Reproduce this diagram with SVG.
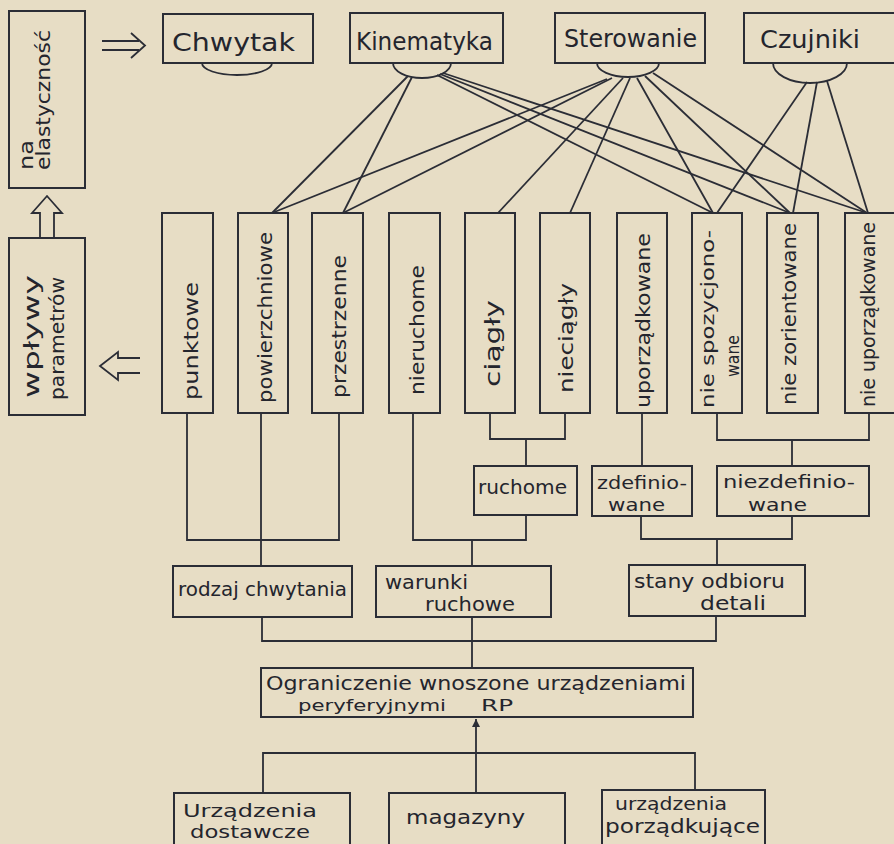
<svg xmlns="http://www.w3.org/2000/svg" width="894" height="844" viewBox="0 0 894 844">
<style>
.bx{fill:none;stroke:#2b2d36;stroke-width:2}
.ln{fill:none;stroke:#2b2d36;stroke-width:1.8}
.t{font-family:"DejaVu Sans","Liberation Sans",Arial,sans-serif;font-size:20px;fill:#24252d}
.big{font-size:24px}
.sm{font-size:17px}
.vs{font-size:18px}
</style>
<defs>
<marker id="ah" viewBox="0 0 10 10" refX="10" refY="5" markerWidth="8" markerHeight="8" markerUnits="userSpaceOnUse" orient="auto">
<path d="M0 0 L10 5 L0 10 Z" fill="#2b2d36"/>
</marker>
</defs>
<rect width="894" height="844" fill="#e7ddc5"/>

<!-- side notes -->
<g id="na-elastycznosc">
<rect class="bx" x="9" y="11" width="76" height="177"/>
<text class="t" transform="translate(33,170) rotate(-90)" textLength="30" lengthAdjust="spacingAndGlyphs">na</text>
<text class="t" transform="translate(50,170) rotate(-90)" textLength="140" lengthAdjust="spacingAndGlyphs">elastyczność</text>
</g>
<g id="wplywy-parametrow">
<rect class="bx" x="9" y="238" width="76" height="177"/>
<text class="t" style="font-size:22px" transform="translate(39,398) rotate(-90)" textLength="123" lengthAdjust="spacingAndGlyphs">wpływy</text>
<text class="t" transform="translate(64,400) rotate(-90)" textLength="123" lengthAdjust="spacingAndGlyphs">parametrów</text>
</g>
<g id="arrows-side">
<path class="ln" d="M102 41 H139 M102 50 H139 M131 33 L145 45.5 L131 58"/>
<path class="ln" d="M40 238 V213 H32 L47 196 L62 213 H54 V238"/>
<path class="ln" d="M140 358 H118 V352 L100 366 L118 380 V373 H140"/>
</g>

<!-- top nodes -->
<g id="chwytak">
<rect class="bx" x="163" y="14" width="150" height="49"/>
<path class="ln" d="M202 63 A35 12 0 0 0 272 63"/>
<text class="t big" x="172" y="51" textLength="123" lengthAdjust="spacingAndGlyphs">Chwytak</text>
</g>
<g id="kinematyka">
<rect class="bx" x="350" y="13" width="153" height="50"/>
<path class="ln" d="M393 63 A29 15 0 0 0 451 63"/>
<text class="t big" x="356" y="50" textLength="137" lengthAdjust="spacingAndGlyphs">Kinematyka</text>
</g>
<g id="sterowanie">
<rect class="bx" x="555" y="13" width="150" height="50"/>
<path class="ln" d="M597 63 A31 14 0 0 0 659 63"/>
<text class="t big" x="564" y="47" textLength="133" lengthAdjust="spacingAndGlyphs">Sterowanie</text>
</g>
<g id="czujniki">
<rect class="bx" x="744" y="13" width="160" height="50"/>
<path class="ln" d="M773 63 A37 20 0 0 0 847 63"/>
<text class="t big" x="760" y="48" textLength="100" lengthAdjust="spacingAndGlyphs">Czujniki</text>
</g>

<!-- vertical nodes -->
<g id="punktowe">
<rect class="bx" x="162" y="213" width="51" height="200"/>
<text class="t" transform="translate(198,400) rotate(-90)" textLength="118" lengthAdjust="spacingAndGlyphs">punktowe</text>
</g>
<g id="powierzchniowe">
<rect class="bx" x="238" y="213" width="50" height="200"/>
<text class="t" transform="translate(272,403) rotate(-90)" textLength="171" lengthAdjust="spacingAndGlyphs">powierzchniowe</text>
</g>
<g id="przestrzenne">
<rect class="bx" x="312" y="213" width="51" height="200"/>
<text class="t" transform="translate(346,398) rotate(-90)" textLength="143" lengthAdjust="spacingAndGlyphs">przestrzenne</text>
</g>
<g id="nieruchome">
<rect class="bx" x="389" y="213" width="51" height="200"/>
<text class="t" transform="translate(424,395) rotate(-90)" textLength="130" lengthAdjust="spacingAndGlyphs">nieruchome</text>
</g>
<g id="ciagly">
<rect class="bx" x="465" y="213" width="50" height="200"/>
<text class="t" style="font-size:22px" transform="translate(500,387) rotate(-90)" textLength="87" lengthAdjust="spacingAndGlyphs">ciągły</text>
</g>
<g id="nieciagly">
<rect class="bx" x="540" y="213" width="50" height="200"/>
<text class="t" transform="translate(573,393) rotate(-90)" textLength="110" lengthAdjust="spacingAndGlyphs">nieciągły</text>
</g>
<g id="uporzadkowane">
<rect class="bx" x="617" y="213" width="50" height="200"/>
<text class="t" transform="translate(650,408) rotate(-90)" textLength="175" lengthAdjust="spacingAndGlyphs">uporządkowane</text>
</g>
<g id="nie-spozycjonowane">
<rect class="bx" x="692" y="213" width="50" height="200"/>
<text class="t vs" transform="translate(714,408) rotate(-90)" textLength="178" lengthAdjust="spacingAndGlyphs">nie spozycjono-</text>
<text class="t vs" transform="translate(739,377) rotate(-90)" textLength="42" lengthAdjust="spacingAndGlyphs">wane</text>
</g>
<g id="nie-zorientowane">
<rect class="bx" x="767" y="213" width="51" height="200"/>
<text class="t" transform="translate(796,405) rotate(-90)" textLength="182" lengthAdjust="spacingAndGlyphs">nie zorientowane</text>
</g>
<g id="nie-uporzadkowane">
<rect class="bx" x="845" y="213" width="60" height="200"/>
<text class="t" transform="translate(875,407) rotate(-90)" textLength="185" lengthAdjust="spacingAndGlyphs">nie uporządkowane</text>
</g>

<!-- middle nodes -->
<g id="ruchome">
<rect class="bx" x="474" y="466" width="103" height="49"/>
<text class="t" x="478" y="494" textLength="89" lengthAdjust="spacingAndGlyphs">ruchome</text>
</g>
<g id="zdefiniowane">
<rect class="bx" x="592" y="466" width="100" height="50"/>
<text class="t vs" x="597" y="489" textLength="90" lengthAdjust="spacingAndGlyphs">zdefinio-</text>
<text class="t vs" x="608" y="511" textLength="57" lengthAdjust="spacingAndGlyphs">wane</text>
</g>
<g id="niezdefiniowane">
<rect class="bx" x="717" y="466" width="152" height="50"/>
<text class="t vs" x="723" y="488" textLength="132" lengthAdjust="spacingAndGlyphs">niezdefinio-</text>
<text class="t vs" x="748" y="511" textLength="59" lengthAdjust="spacingAndGlyphs">wane</text>
</g>
<g id="rodzaj-chwytania">
<rect class="bx" x="173" y="566" width="179" height="51"/>
<text class="t" x="178" y="596" textLength="169" lengthAdjust="spacingAndGlyphs">rodzaj chwytania</text>
</g>
<g id="warunki-ruchowe">
<rect class="bx" x="376" y="566" width="175" height="51"/>
<text class="t" x="385" y="589" textLength="83" lengthAdjust="spacingAndGlyphs">warunki</text>
<text class="t" x="425" y="611" textLength="90" lengthAdjust="spacingAndGlyphs">ruchowe</text>
</g>
<g id="stany-odbioru-detali">
<rect class="bx" x="629" y="565" width="176" height="51"/>
<text class="t" x="634" y="588" textLength="151" lengthAdjust="spacingAndGlyphs">stany odbioru</text>
<text class="t" x="700" y="610" textLength="66" lengthAdjust="spacingAndGlyphs">detali</text>
</g>
<g id="ograniczenie">
<rect class="bx" x="261" y="668" width="432" height="49"/>
<text class="t" style="font-size:19px" x="266" y="690" textLength="420" lengthAdjust="spacingAndGlyphs">Ograniczenie  wnoszone urządzeniami</text>
<text class="t" style="font-size:16px" x="298" y="711" textLength="148" lengthAdjust="spacingAndGlyphs">peryferyjnymi</text>
<text class="t" style="font-size:16px" x="481" y="711" textLength="32" lengthAdjust="spacingAndGlyphs">RP</text>
</g>

<!-- bottom nodes -->
<g id="urzadzenia-dostawcze">
<rect class="bx" x="174" y="793" width="176" height="60"/>
<text class="t sm" x="183" y="817" textLength="134" lengthAdjust="spacingAndGlyphs">Urządzenia</text>
<text class="t sm" x="190" y="838" textLength="120" lengthAdjust="spacingAndGlyphs">dostawcze</text>
</g>
<g id="magazyny">
<rect class="bx" x="389" y="793" width="176" height="60"/>
<text class="t" x="406" y="824" textLength="119" lengthAdjust="spacingAndGlyphs">magazyny</text>
</g>
<g id="urzadzenia-porzadkujace">
<rect class="bx" x="602" y="790" width="163" height="63"/>
<text class="t sm" x="615" y="810" textLength="112" lengthAdjust="spacingAndGlyphs">urządzenia</text>
<text class="t" x="605" y="833" textLength="155" lengthAdjust="spacingAndGlyphs">porządkujące</text>
</g>

<!-- connectors -->
<g id="connectors">
<!-- Kinematyka -->
<path class="ln" d="M408 76 L272 213"/>
<path class="ln" d="M412 77 L343 213"/>
<path class="ln" d="M437 75 L713 213"/>
<path class="ln" d="M440 74 L790 213"/>
<path class="ln" d="M443 73 L867 213"/>
<!-- Sterowanie -->
<path class="ln" d="M607 79 L272 213"/>
<path class="ln" d="M612 78 L343 213"/>
<path class="ln" d="M623 78 L498 213"/>
<path class="ln" d="M630 78 L570 213"/>
<path class="ln" d="M637 78 L713 213"/>
<path class="ln" d="M645 76 L790 213"/>
<path class="ln" d="M653 73 L867 213"/>
<!-- Czujniki -->
<path class="ln" d="M807 82 L717 213"/>
<path class="ln" d="M817 82 L793 213"/>
<path class="ln" d="M827 81 L868 213"/>
<!-- tree -->
<path class="ln" d="M187 413 V540 H339 V413 M261 413 V566"/>
<path class="ln" d="M490 413 V439 H565 V413 M526 439 V466"/>
<path class="ln" d="M413 413 V540 H526 V515 M472 540 V566"/>
<path class="ln" d="M642 413 V466"/>
<path class="ln" d="M717 413 V440 H869 V413 M792 440 V466"/>
<path class="ln" d="M641 516 V539 H792 V516 M717 539 V565"/>
<path class="ln" d="M262 617 V641 H716 V616 M472 617 V668"/>
<path class="ln" d="M263 793 V753 H695 V790 M476 793 V719" marker-end="url(#ah)"/>
</g>
</svg>
